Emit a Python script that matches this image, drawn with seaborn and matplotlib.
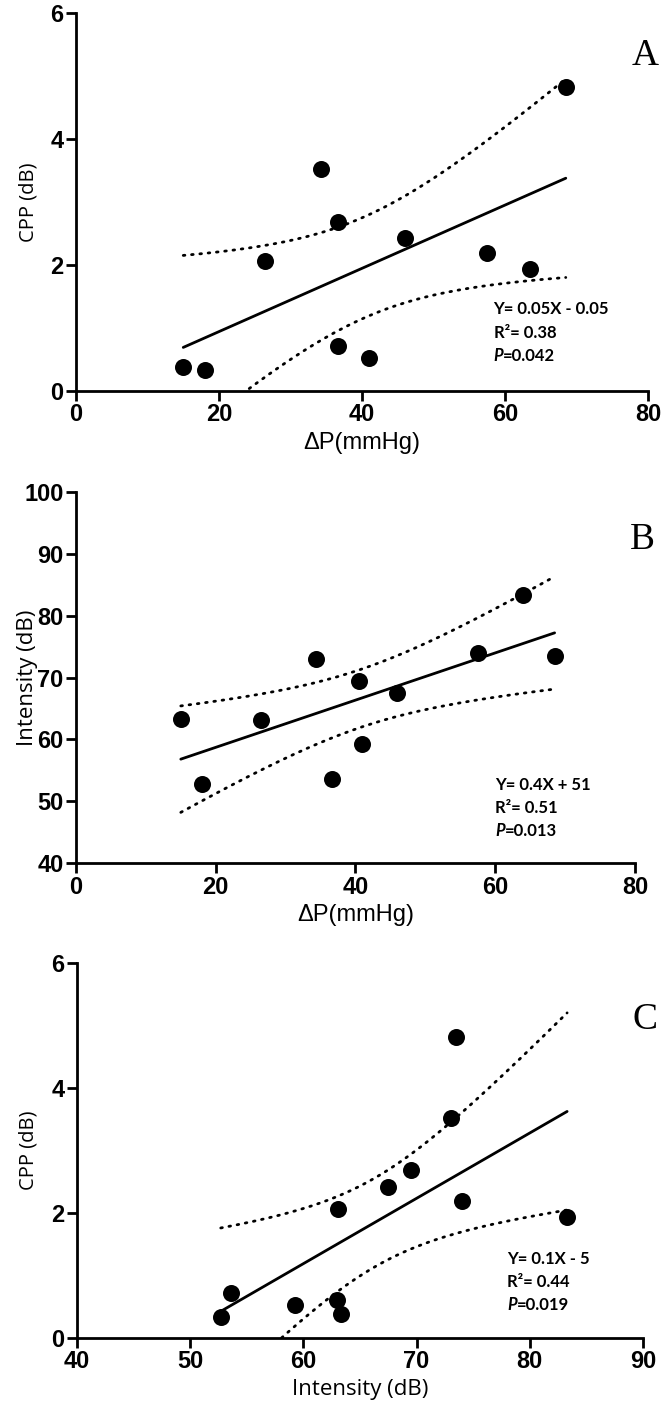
import numpy as np
import pandas as pd
import seaborn as sns
from matplotlib import pyplot as plt

# Panel A: CPP vs delta P
dp_a = [15.0, 18.0, 26.5, 34.3, 36.7, 36.7, 41.0, 46.0, 57.5, 63.5, 68.5]
cpp_a = [0.38, 0.33, 2.06, 3.52, 2.68, 0.72, 0.53, 2.42, 2.19, 1.94, 4.82]

# Panel B: intensity vs delta P
dp_b = [15.0, 18.0, 26.5, 34.3, 36.7, 40.5, 41.0, 46.0, 57.5, 64.0, 68.5]
int_b = [63.3, 52.7, 63.1, 73.0, 53.6, 69.5, 59.3, 67.5, 74.0, 83.3, 73.5]

# Panel C: CPP vs intensity
int_c = [52.7, 53.6, 59.3, 63.0, 63.3, 63.1, 67.5, 69.5, 73.0, 73.5, 74.0, 83.3]
cpp_c = [0.33, 0.72, 0.53, 0.60, 0.38, 2.06, 2.42, 2.68, 3.52, 4.82, 2.19, 1.94]

stats_a = ["Y= 0.05X - 0.05", "R\u00b2= 0.38", "0.042"]
stats_b = ["Y= 0.4X + 51", "R\u00b2= 0.51", "0.013"]
stats_c = ["Y= 0.1X - 5", "R\u00b2= 0.44", "0.019"]

# two-sided 95% t quantiles by degrees of freedom
T_CRIT = {9: 2.262, 10: 2.228}

TICK_FONT = dict(family="Liberation Sans", weight="bold", size=17, color="black")
NOTE_FONT = "Lato"


def conf_band(x, y, grid):
    """95% confidence band of the OLS mean line"""
    x = np.asarray(x)
    y = np.asarray(y)
    n = len(x)
    slope, icpt = np.polyfit(x, y, 1)
    resid = y - (slope * x + icpt)
    s = np.sqrt((resid ** 2).sum() / (n - 2))
    sxx = ((x - x.mean()) ** 2).sum()
    half = T_CRIT[n - 2] * s * np.sqrt(1 / n + (grid - x.mean()) ** 2 / sxx)
    fit = slope * grid + icpt
    return fit - half, fit + half


def panel(ax, x, y, xlim, ylim, xticks, yticks, xlabel, ylabel, xl_font, yl_font,
          ylab_x, stats, note_xy, letter, letter_xy):
    df = pd.DataFrame({"x": x, "y": y})
    sns.regplot(
        ax=ax, data=df, x="x", y="y", ci=None, color="black",
        scatter_kws=dict(s=150, alpha=1, linewidths=0),
        line_kws=dict(lw=2.0),
    )
    grid = np.linspace(min(x), max(x), 200)
    lo, hi = conf_band(x, y, grid)
    for band in (lo, hi):
        sns.lineplot(ax=ax, x=grid, y=band, color="black", lw=2.0,
                     linestyle=(0, (0.6, 2.4)), dash_capstyle="round")

    ax.set_xlim(*xlim)
    ax.set_ylim(*ylim)
    ax.set_xticks(xticks)
    ax.set_yticks(yticks)
    ax.set_xticklabels([str(t) for t in xticks], fontdict=TICK_FONT)
    ax.set_yticklabels([str(t) for t in yticks], fontdict=TICK_FONT)
    ax.set_xlabel(xlabel, **xl_font, labelpad=4, color="black")
    ax.set_ylabel(ylabel, **yl_font, color="black")
    ax.yaxis.set_label_coords(ylab_x, 0.5)
    ax.tick_params(width=2, length=7, pad=2, color="black")
    for side in ("left", "bottom"):
        ax.spines[side].set_linewidth(2)
        ax.spines[side].set_color("black")
    sns.despine(ax=ax)

    nx, ny = note_xy
    step = 0.062
    note = dict(transform=ax.transAxes, family=NOTE_FONT, weight="bold",
                size=12, va="bottom", color="black")
    ax.text(nx, ny, stats[0], **note)
    ax.text(nx, ny - step, stats[1], **note)
    p_txt = ax.text(nx, ny - 2 * step, "P", style="italic", **note)
    ax.annotate("=" + stats[2], xy=(1, 0), xycoords=p_txt, va="bottom",
                family=NOTE_FONT, weight="bold", size=12, color="black")

    ax.text(*letter_xy, letter, transform=ax.transAxes, family="Liberation Serif",
            size=27, ha="center", va="center", color="black")


def main():
    sns.set_style("ticks")
    fig = plt.figure(figsize=(6.66, 14.19), dpi=100)
    ax_a = fig.add_axes([0.1141, 0.7245, 0.8589, 0.2664])
    ax_b = fig.add_axes([0.1141, 0.3918, 0.8393, 0.2615])
    ax_c = fig.add_axes([0.1156, 0.0571, 0.8498, 0.2643])

    small_y = dict(family="Open Sans", size=14.5)
    big_lbl = dict(family="Open Sans", size=16)
    dp_lbl = dict(family="Liberation Sans", size=17)

    panel(ax_a, dp_a, cpp_a, (0, 80), (0, 6), [0, 20, 40, 60, 80], [0, 2, 4, 6],
          "\u0394P(mmHg)", "CPP (dB)", dp_lbl, small_y, -0.066,
          stats_a, (0.73, 0.195), "A", (0.995, 0.886))
    panel(ax_b, dp_b, int_b, (0, 80), (40, 100), [0, 20, 40, 60, 80],
          [40, 50, 60, 70, 80, 90, 100],
          "\u0394P(mmHg)", "Intensity (dB)", dp_lbl, big_lbl, -0.068,
          stats_b, (0.75, 0.19), "B", (1.014, 0.87))
    panel(ax_c, int_c, cpp_c, (40, 90), (0, 6), [40, 50, 60, 70, 80, 90],
          [0, 2, 4, 6],
          "Intensity (dB)", "CPP (dB)", big_lbl, small_y, -0.068,
          stats_c, (0.76, 0.19), "C", (1.0035, 0.848))

    plt.savefig("out.png", dpi=100)


if __name__ == "__main__":
    main()
